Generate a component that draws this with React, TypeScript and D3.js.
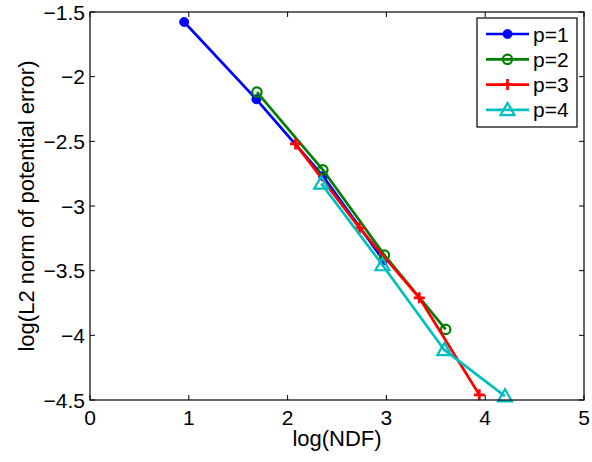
import React from "react";
import * as d3 from "d3";

const seriesNames = ["p=1", "p=2", "p=3", "p=4"];
const p1X = [0.953, 1.684, 2.36, 2.97];
const p1Y = [-1.577, -2.175, -2.77, -3.42];
const p2X = [1.69, 2.357, 2.98, 3.6];
const p2Y = [-2.119, -2.72, -3.38, -3.954];
const p3X = [2.08, 2.727, 3.333, 3.94];
const p3Y = [-2.52, -3.17, -3.71, -4.46];
const p4X = [2.34, 2.96, 3.586, 4.2];
const p4Y = [-2.825, -3.456, -4.113, -4.47];
const xTicks = [0, 1, 2, 3, 4, 5];
const yTicks = [-1.5, -2, -2.5, -3, -3.5, -4, -4.5];

const colors = ["#0000ff", "#008000", "#ff0000", "#00bfbf"];
const markers = ["dot", "circle", "plus", "triangle"];

const W = 592, H = 462;
const L = 90, R = 584, T = 12, B = 400;
const FONT = "'Liberation Sans', Arial, Helvetica, sans-serif";

function Marker({ type, x, y, color }: { type: string; x: number; y: number; color: string }) {
  if (type === "dot") return <circle cx={x} cy={y} r={4.5} fill={color} stroke={color} strokeWidth={1} />;
  if (type === "circle") return <circle cx={x} cy={y} r={4.7} fill="none" stroke={color} strokeWidth={2.2} />;
  if (type === "plus")
    return (
      <path d={`M${x - 5.5},${y}H${x + 5.5}M${x},${y - 5.5}V${y + 5.5}`} stroke={color} strokeWidth={2.7} fill="none" />
    );
  const s = 7;
  return (
    <path
      d={`M${x},${y - s}L${x + s},${y + s * 0.75}L${x - s},${y + s * 0.75}Z`}
      fill="none"
      stroke={color}
      strokeWidth={2.2}
    />
  );
}

export default function App() {
  const x = d3.scaleLinear().domain([0, 5]).range([L, R]);
  const y = d3.scaleLinear().domain([-4.5, -1.5]).range([B, T]);
  const data = [
    p1X.map((v, i) => [v, p1Y[i]]),
    p2X.map((v, i) => [v, p2Y[i]]),
    p3X.map((v, i) => [v, p3Y[i]]),
    p4X.map((v, i) => [v, p4Y[i]]),
  ] as [number, number][][];
  const line = d3
    .line<[number, number]>()
    .x((d) => x(d[0]))
    .y((d) => y(d[1]));
  const tl = 5;
  const legX = 477, legY = 18, legW = 100, legH = 109;
  const rowY = (i: number) => legY + 16 + i * 25.3;
  return (
    <svg width={W} height={H} style={{ position: "absolute", left: 0, top: 0, background: "#fff" }} fontFamily={FONT}>
      <rect x={0} y={0} width={W} height={H} fill="#fff" />
      <rect x={L} y={T} width={R - L} height={B - T} fill="#fff" stroke="none" />
      {xTicks.map((t) => (
        <g key={"xt" + t}>
          <line x1={x(t)} x2={x(t)} y1={B} y2={B - tl} stroke="#000" strokeWidth={1} />
          <line x1={x(t)} x2={x(t)} y1={T} y2={T + tl} stroke="#000" strokeWidth={1} />
          <text x={x(t)} y={417} textAnchor="middle" dominantBaseline="central" fontSize={21}>
            {String(t)}
          </text>
        </g>
      ))}
      {yTicks.map((t) => (
        <g key={"yt" + t}>
          <line x1={L} x2={L + tl} y1={y(t)} y2={y(t)} stroke="#000" strokeWidth={1} />
          <line x1={R} x2={R - tl} y1={y(t)} y2={y(t)} stroke="#000" strokeWidth={1} />
          <text x={85} y={y(t)} textAnchor="end" dominantBaseline="central" fontSize={21}>
            {String(t).replace("-", "\u2212")}
          </text>
        </g>
      ))}
      {data.map((d, i) => (
        <g key={"s" + i}>
          <path d={line(d) || ""} fill="none" stroke={colors[i]} strokeWidth={2.7} strokeLinejoin="round" />
          {d.map((p, j) => (
            <Marker key={j} type={markers[i]} x={x(p[0])} y={y(p[1])} color={colors[i]} />
          ))}
        </g>
      ))}
      <rect x={L} y={T} width={R - L} height={B - T} fill="none" stroke="#000" strokeWidth={1.2} />
      <rect x={legX} y={legY} width={legW} height={legH} fill="#fff" stroke="#000" strokeWidth={1.2} />
      {seriesNames.map((n, i) => (
        <g key={"l" + i}>
          <line x1={486} x2={529} y1={rowY(i)} y2={rowY(i)} stroke={colors[i]} strokeWidth={2.7} />
          <Marker type={markers[i]} x={507.5} y={rowY(i)} color={colors[i]} />
          <text x={533} y={rowY(i)} dominantBaseline="central" fontSize={21}>
            {n}
          </text>
        </g>
      ))}
      <text x={(L + R) / 2} y={438} textAnchor="middle" dominantBaseline="central" fontSize={22}>
        log(NDF)
      </text>
      <text
        transform={`translate(26,${(T + B) / 2}) rotate(-90)`}
        textAnchor="middle"
        dominantBaseline="central"
        fontSize={22}
      >
        log(L2 norm of potential error)
      </text>
    </svg>
  );
}
